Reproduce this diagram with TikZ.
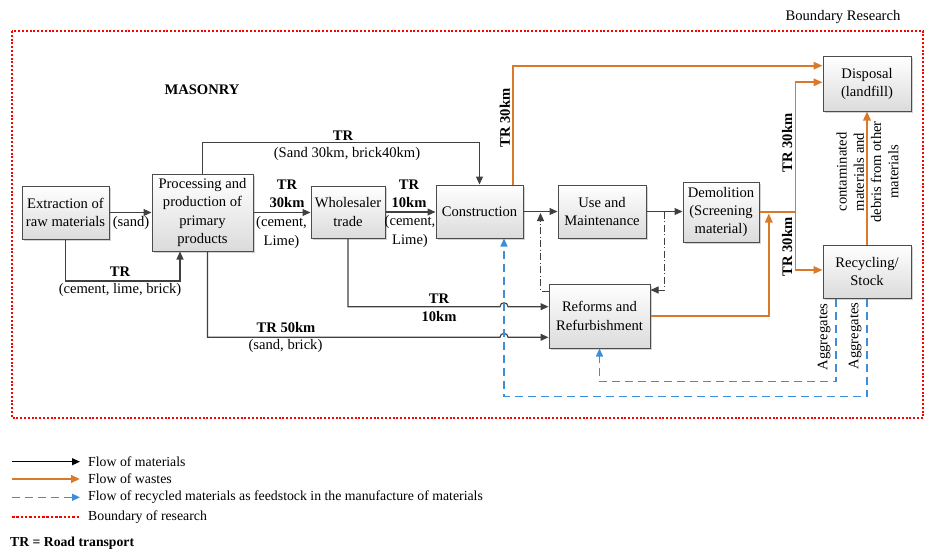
\documentclass[tikz,border=0pt]{standalone}
\usepackage{fontspec}
\setmainfont{Liberation Serif}
\usetikzlibrary{arrows.meta,calc,shadows}
\definecolor{lgray}{HTML}{404040}
\definecolor{worange}{HTML}{D97A2B}
\definecolor{rblue}{HTML}{3A8FD8}
\definecolor{bred}{HTML}{FF0000}
\begin{document}
\begin{tikzpicture}[x=1pt,y=-1pt,
  box/.style={draw=black!70, line width=1pt, top color=white, bottom color=black!14,
    align=center, inner sep=0pt, font=\fontsize{14.6}{18.3}\selectfont,
    drop shadow={shadow xshift=1.5pt, shadow yshift=-1.5pt, fill=black!35, opacity=0.5}},
  mat/.style={draw=lgray, line width=1.15pt, -{Triangle[length=8pt,width=7pt]}},
  dd/.style={draw=lgray, line width=1pt, dash pattern=on 7pt off 2.5pt on 1pt off 2.5pt, -{Triangle[length=8pt,width=7pt]}},
  was/.style={draw=worange, line width=1.7pt, -{Triangle[length=9pt,width=7.5pt]}},
  rcy/.style={draw=rblue, line width=1.4pt, dash pattern=on 8pt off 5pt, -{Triangle[length=8pt,width=7pt]}},
  lab/.style={font=\fontsize{14.6}{18.3}\selectfont, inner sep=0pt, align=center},
  blab/.style={font=\fontsize{14.6}{18.3}\selectfont\bfseries, inner sep=0pt, align=center},
  leg/.style={font=\fontsize{13.8}{16}\selectfont, inner sep=0pt, anchor=west},
]
\useasboundingbox (0,0) rectangle (932,551);

% boundary
\node[lab] (bres) at (843,17) {Boundary Research};
\draw[draw=bred, line width=2pt, dash pattern=on 2pt off 1.8pt] (12,31) rectangle (923,418);
\node[blab] (mas) at (202,90) {MASONRY};

% boxes
\node[box, minimum width=87pt, minimum height=53pt] (ext) at (65.5,212.5) {Extraction of\\raw materials};
\node[box, minimum width=101pt, minimum height=77pt] (proc) at (202.5,212.5) {Processing and\\production of\\primary\\products};
\node[box, minimum width=74pt, minimum height=52pt] (whole) at (348,212) {Wholesaler\\trade};
\node[box, minimum width=87pt, minimum height=53pt] (cons) at (479.5,211.5) {Construction};
\node[box, minimum width=88pt, minimum height=53pt] (use) at (602,211.5) {Use and\\Maintenance};
\node[box, minimum width=76pt, minimum height=60pt] (dem) at (721,212) {Demolition\\(Screening\\material)};
\node[box, minimum width=88pt, minimum height=54pt] (disp) at (867,84) {Disposal\\(landfill)};
\node[box, minimum width=88pt, minimum height=53pt] (rec) at (867,271.5) {Recycling/\\Stock};
\node[box, minimum width=101pt, minimum height=64pt] (ref) at (599.5,316) {Reforms and\\Refurbishment};

% material flows
\draw[mat] (ext.east) -- (ext.east -| proc.west);
\node[lab] (l1) at (131,223) {(sand)};
\draw[mat] (ext.south) -- ++(0,41.5) -| ($(proc.south)+(-22.5,0)$);
\node[blab] (l2) at (120,272) {TR};
\node[lab] (l3) at (120,290) {(cement, lime, brick)};
\draw[mat] (proc.east) -- (proc.east -| whole.west);
\node[blab] (l4) at (287,194) {TR\\30km};
\node[lab] (l5) at (281.5,232.5) {(cement,\\Lime)};
\draw[mat] (proc.north) -- ++(0,-30.7) -| (cons.north);
\node[blab] (l6) at (343,136) {TR};
\node[lab] (l7) at (347,154) {(Sand 30km, brick40km)};
\draw[mat] (whole.east) -- (whole.east -| cons.west);
\node[blab] (l8) at (409,193.5) {TR\\10km};
\node[lab] (l9) at (410,231.5) {(cement,\\Lime)};
\draw[mat] (whole.south) |- (500,306.7) .. controls (500,301.5) and (508,301.5) .. (508,306.7) -- ($(ref.west)+(0,-9.3)$);
\node[blab] (l10) at (439,307.5) {TR\\10km};
\draw[mat] ($(proc.south)+(5,0)$) |- (500,337.3) .. controls (500,332.1) and (508,332.1) .. (508,337.3) -- ($(ref.west)+(0,21.3)$);
\node[blab] (l11) at (286,328) {TR 50km};
\node[lab] (l12) at (285.5,345.5) {(sand, brick)};
\draw[mat] (cons.east) -- (cons.east -| use.west);
\draw[mat] (use.east) -- (use.east -| dem.west);
\draw[dd] ($(ref.west)+(0,-25)$) -- ++(-8,0) -- ($(cons.east)!.5!(use.west)+(0,1.5)$);
\draw[dd] ($(use.east)!.5!(dem.west)$) |- ($(ref.east)+(0,-26)$);

% waste flows
\draw[was] ($(cons.north)+(33.2,0)$) |- ($(disp.west)+(0,-18.3)$);
\node[blab, rotate=90] (l13) at (505,118) {TR 30km};
\draw[was] (dem.east) -- ++(36,0) coordinate (j) |- ($(disp.west)+(0,-1.7)$);
\draw[was] (j) |- ($(rec.west)+(0,-1.5)$);
\node[blab, rotate=90] (l14) at (787,143) {TR 30km};
\node[blab, rotate=90] (l15) at (787,247) {TR 30km};
\draw[was] (ref.east) -| ($(dem.east)+(9.3,1.5)$);
\draw[was] (rec.north) -- (disp.south);
\node[lab, rotate=90, font=\fontsize{14.6}{17.2}\selectfont] (l16) at (867.5,172) {contaminated\\materials and\\debris from other\\materials};

% recycled flows
\draw[rcy] (rec.south) -- ++(0,97.7) -| ($(cons.south)+(24.5,0)$);
\draw[rcy] ($(rec.south)+(-31,0)$) -- ++(0,83) -| (ref.south);
\node[lab, rotate=90] (l17) at (824,337) {Aggregates};
\node[lab, rotate=90] (l18) at (855,336) {Aggregates};

% legend
\coordinate (a1) at (12,461.7); \coordinate (b1) at (80,461.7);
\coordinate (a2) at (12,479);   \coordinate (b2) at (80,479);
\coordinate (a3) at (12,497.3); \coordinate (b3) at (80,497.3);
\coordinate (a4) at (12,516.7); \coordinate (b4) at (80,516.7);
\draw[mat, draw=black] (a1) -- (b1);
\draw[was, line width=2.2pt] (a2) -- (b2);
\draw[rcy] (a3) -- (b3);
\draw[draw=bred, line width=2pt, dash pattern=on 2.5pt off 1.8pt] (a4) -- (b4);
\node[leg] (t1) at (88,461.7) {Flow of materials};
\node[leg] (t2) at (88,479) {Flow of wastes};
\node[leg] (t3) at (88,497.3) {Flow of recycled materials as feedstock in the manufacture of materials};
\node[leg] (t4) at (88,516.7) {Boundary of research};
\node[leg, font=\fontsize{13.7}{16}\selectfont\bfseries] (t5) at (10,543) {TR = Road transport};
\end{tikzpicture}
\end{document}
